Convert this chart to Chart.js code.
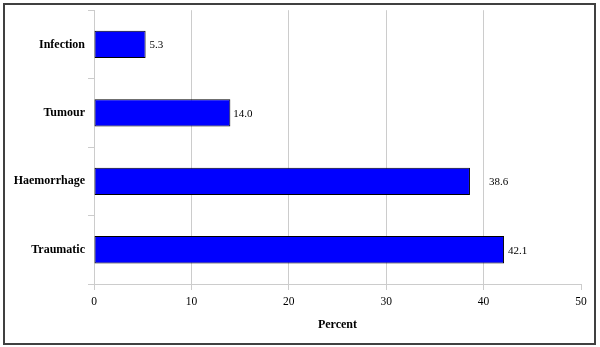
<!DOCTYPE html>
<html>
<head>
<meta charset="utf-8">
<script src="https://cdn.jsdelivr.net/npm/chart.js@4/dist/chart.umd.min.js"></script>
<style>
html,body{margin:0;padding:0;background:#fff;}
#wrap{width:600px;height:347px;position:relative;}
</style>
</head>
<body>
<div id="wrap"><canvas id="c" width="600" height="347"></canvas></div>
<script>
const categories = ["Infection", "Tumour", "Haemorrhage", "Traumatic"];
const percentValues = [5.3, 14.0, 38.6, 42.1];
const xTicks = [0, 10, 20, 30, 40, 50];
const axisTitle = "Percent";

const labelOffsets = [4, 3, 19, 4];
const serif = "'Liberation Serif', 'Times New Roman', serif";

const valueLabels = {
  id: 'valueLabels',
  afterDatasetsDraw(chart) {
    const ctx = chart.ctx;
    const meta = chart.getDatasetMeta(0);
    ctx.save();
    ctx.font = "11px " + serif;
    ctx.fillStyle = "#000";
    ctx.textBaseline = "middle";
    ctx.textAlign = "left";
    meta.data.forEach((el, i) => {
      ctx.fillText(percentValues[i].toFixed(1), el.x + labelOffsets[i], el.y + 1);
    });
    ctx.restore();
  }
};

const frame = {
  id: 'frame',
  afterDraw(chart) {
    const ctx = chart.ctx;
    ctx.save();
    ctx.strokeStyle = "#404040";
    ctx.lineWidth = 2;
    ctx.strokeRect(4, 4, 591, 340);
    ctx.restore();
  }
};

new Chart(document.getElementById('c'), {
  type: 'bar',
  data: {
    labels: categories,
    datasets: [{
      data: percentValues,
      backgroundColor: '#0000ff',
      borderColor: '#000000',
      borderWidth: 1,
      borderSkipped: false,
      categoryPercentage: 1.0,
      barPercentage: 0.4
    }]
  },
  options: {
    indexAxis: 'y',
    responsive: false,
    animation: false,
    devicePixelRatio: 1,
    layout: { padding: { left: 0, right: 19, top: 10, bottom: 0 } },
    plugins: { legend: { display: false }, tooltip: { enabled: false } },
    scales: {
      x: {
        min: 0, max: 50,
        afterBuildTicks(scale) { scale.ticks = xTicks.map(v => ({ value: v })); },
        afterFit(scale) { scale.height = 63; },
        grid: {
          color: (c) => (c.tick && c.tick.value === 50) ? 'rgba(0,0,0,0)' : '#cccccc',
          tickColor: '#cccccc',
          tickLength: 6,
          lineWidth: 1
        },
        border: { display: true, color: '#cccccc' },
        ticks: {
          font: { family: serif, size: 11.5 },
          color: '#000',
          padding: 5,
          maxRotation: 0
        },
        title: {
          display: true,
          text: axisTitle,
          font: { family: serif, size: 12, weight: 'bold' },
          color: '#000',
          padding: { top: 0, bottom: 15 }
        }
      },
      y: {
        afterFit(scale) { scale.width = 94; },
        grid: {
          offset: true,
          drawOnChartArea: false,
          tickColor: '#cccccc',
          tickLength: 6
        },
        border: { display: true, color: '#cccccc' },
        ticks: {
          font: { family: serif, size: 12, weight: 'bold' },
          color: '#000',
          padding: 3
        }
      }
    }
  },
  plugins: [valueLabels, frame]
});
</script>
</body>
</html>
